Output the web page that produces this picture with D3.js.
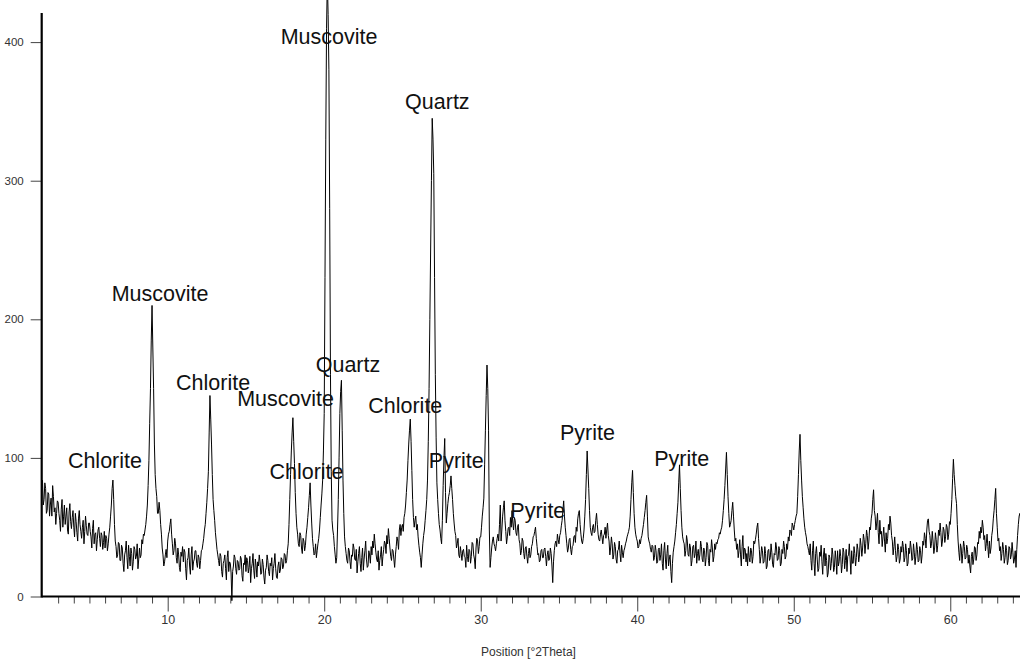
<!DOCTYPE html>
<html>
<head>
<meta charset="utf-8">
<script src="https://cdn.jsdelivr.net/npm/d3@7/dist/d3.min.js"></script>
<style>
  html, body { margin: 0; padding: 0; background: #ffffff; }
  svg { display: block; font-family: "Liberation Sans", Arial, sans-serif; }
</style>
</head>
<body>
<svg id="chart" width="1020" height="661"></svg>
<script>
// ---- data ----
const startAngle = 2.0;   // first measured position, °2Theta
const stepSize = 0.05;    // step between measured positions, °2Theta
const counts = [
  84,66,70,82,78,60,62,75,74,58,66,71,58,80,72,61,64,52,60,69,
  68,60,55,47,63,70,50,58,66,52,58,64,48,45,61,67,54,49,57,62,
  50,43,60,54,46,40,56,62,52,47,42,50,55,38,47,58,51,45,44,53,
  53,47,43,35,49,55,38,45,46,33,41,48,50,42,36,46,44,34,39,47,
  35,44,42,33,38,45,50,58,66,78,84,70,52,40,36,28,30,39,38,26,
  26,37,35,24,18,30,33,40,28,20,37,29,22,35,31,19,25,36,34,27,
  29,38,20,27,35,28,30,41,38,45,44,48,52,58,66,80,98,125,150,185,
  210,180,150,110,88,78,72,60,60,68,62,52,45,35,30,22,25,30,34,28,
  40,45,47,52,56,45,38,30,33,42,38,28,24,35,30,21,18,32,29,36,
  25,34,32,20,12,26,28,35,22,16,30,36,19,25,27,33,33,24,21,30,
  28,20,26,33,34,38,42,48,52,60,68,78,90,118,145,128,110,88,70,62,
  55,46,40,34,30,26,22,31,29,18,14,24,26,30,20,12,28,33,18,25,
  24,17,-3,18,22,30,28,20,16,26,25,19,20,29,27,15,11,24,23,30,
  18,28,26,17,21,29,10,20,24,31,19,13,27,22,14,25,22,30,25,16,
  17,27,23,14,9,19,21,30,26,18,15,24,22,28,12,20,24,31,20,14,
  13,22,25,17,19,28,27,20,22,31,30,24,26,33,38,52,70,88,105,118,
  129,112,96,75,60,50,45,38,36,46,44,35,31,42,40,33,37,45,50,57,
  64,73,82,66,53,42,36,30,31,38,28,33,38,42,48,57,66,74,84,105,
  132,230,330,410,445,420,380,280,160,90,55,48,44,36,30,24,28,48,70,100,
  132,148,156,120,84,60,43,36,31,26,24,35,33,25,20,30,29,38,35,27,
  26,34,17,25,31,36,24,18,28,35,19,27,33,40,27,21,22,33,30,24,
  36,30,40,35,45,38,32,27,25,33,19,26,30,36,22,29,34,40,38,31,
  44,38,49,42,35,29,26,34,33,27,21,30,36,43,40,34,48,52,44,50,
  52,47,57,60,66,75,84,98,110,120,128,112,91,70,57,50,55,58,48,52,
  43,37,32,28,21,30,38,44,48,55,62,70,84,112,150,200,250,300,345,330,
  305,230,160,115,82,70,60,52,48,42,38,55,80,100,114,75,53,60,67,72,
  75,80,87,78,70,60,53,47,44,35,38,42,30,28,36,31,26,33,34,29,
  28,21,37,29,25,34,33,24,29,39,38,30,27,20,35,42,40,31,36,43,
  43,50,58,64,71,95,120,145,167,150,120,48,21,28,35,40,43,38,36,33,
  38,42,45,40,52,66,40,48,58,64,69,55,47,38,43,49,50,44,57,50,
  62,53,48,57,55,46,44,50,52,41,38,30,33,42,40,31,27,35,36,29,
  24,31,35,28,30,36,38,43,44,47,50,42,36,30,31,25,26,33,34,28,
  28,34,35,29,22,30,33,26,27,35,31,22,10,25,33,38,40,36,45,41,
  38,44,46,51,55,62,69,58,50,44,38,32,35,41,42,34,30,36,37,43,
  44,39,50,47,56,60,62,52,45,40,38,42,48,58,70,88,105,92,78,62,
  50,46,44,50,52,46,47,55,60,52,45,41,40,45,48,43,38,44,45,50,
  42,48,53,44,40,30,35,43,38,27,30,39,36,27,24,33,34,40,31,25,
  37,32,28,33,35,38,40,43,45,47,50,58,70,82,91,75,60,50,45,42,
  40,35,36,41,38,42,44,48,52,57,62,68,73,58,43,40,38,34,32,37,
  36,26,28,37,33,24,25,34,35,26,30,38,24,19,33,39,27,20,31,37,
  22,27,30,18,10,24,32,36,40,46,52,60,68,82,95,78,62,50,43,40,
  38,29,33,44,40,30,29,38,35,22,26,36,37,28,31,40,24,31,34,26,
  30,40,36,27,25,35,33,22,28,39,37,26,22,34,32,41,35,25,29,38,
  34,39,38,41,42,46,45,48,50,55,62,70,80,92,104,88,72,60,50,52,
  55,62,68,58,48,40,42,34,38,28,33,41,30,22,36,44,27,35,34,25,
  31,22,36,28,25,35,33,24,29,40,38,41,45,50,53,42,34,24,29,36,
  33,24,25,36,31,20,22,33,34,26,28,38,32,23,21,31,30,39,35,26,
  27,36,33,22,24,34,31,40,36,27,29,38,34,43,40,48,47,44,53,51,
  48,52,55,58,60,72,88,105,117,98,84,72,64,56,50,46,43,38,36,33,
  30,38,26,19,33,40,24,15,31,36,27,18,20,32,29,37,25,16,30,35,
  22,31,26,14,17,30,28,19,24,35,30,18,21,33,27,16,33,22,25,34,
  29,17,23,35,32,20,26,34,18,29,30,38,27,16,33,24,24,36,31,22,
  28,38,34,25,30,42,37,29,35,45,41,31,38,48,44,34,40,50,48,56,
  60,70,77,62,58,48,53,60,46,38,55,45,47,36,43,50,40,32,46,38,
  42,52,48,58,53,44,40,30,36,43,33,25,29,38,34,24,27,36,32,40,
  36,25,28,38,33,22,24,35,31,40,35,26,27,38,32,23,29,39,34,25,
  26,36,33,24,30,40,37,46,42,35,48,55,56,47,44,35,38,47,40,31,
  35,46,41,32,37,48,44,53,46,36,40,50,48,39,43,52,50,41,45,54,
  52,60,70,85,99,88,80,72,67,52,40,32,26,38,35,24,31,40,36,27,
  28,37,34,24,30,22,17,29,32,23,27,36,35,26,30,39,38,47,42,50,
  46,55,50,41,44,33,38,45,36,28,40,31,35,44,48,56,62,70,78,60,
  50,40,42,33,36,26,31,39,34,24,28,37,33,23,26,36,35,27,30,39,
  32,24,27,33,21,34,44,52,58,60,55
];

const xMajorTicks = [10, 20, 30, 40, 50, 60];
const xMinorTicks = [3,4,5,6,7,8,9,11,12,13,14,15,16,17,18,19,21,22,23,24,25,26,27,28,29,
                     31,32,33,34,35,36,37,38,39,41,42,43,44,45,46,47,48,49,51,52,53,54,55,56,57,58,59,61,62,63,64];
const yTicks = [0, 100, 200, 300, 400];
const xTitle = "Position [°2Theta]";

// phase labels: name, position (°2Theta) and height (counts) where each is written
const labelNames  = ["Muscovite","Quartz","Muscovite","Chlorite","Muscovite","Quartz","Chlorite","Chlorite","Chlorite","Pyrite","Pyrite","Pyrite","Pyrite"];
const labelAngles = [20.31, 27.23, 9.51, 12.9, 17.53, 21.52, 25.18, 5.99, 18.87, 28.44, 33.65, 36.82, 42.84];
const labelCounts = [398.5, 352, 213.5, 149, 137.5, 162, 132.5, 92.5, 85, 92.5, 56.5, 113, 94];

// ---- drawing ----
const svg = d3.select("#chart");
const x = d3.scaleLinear().domain([1.95, 64.5]).range([41.7, 1020.7]);
const y = d3.scaleLinear().domain([0, 421]).range([596.5, 13]);

const points = counts.map((c, i) => [startAngle + i * stepSize, c]);

// x axis: minor ticks
svg.append("g")
  .attr("transform", `translate(0,${y(0)})`)
  .call(d3.axisBottom(x).tickValues(xMinorTicks).tickSize(7).tickFormat(""))
  .call(g => g.select(".domain").remove())
  .call(g => g.selectAll(".tick line").attr("stroke", "#444").attr("stroke-width", 1));

// x axis: major ticks + labels
svg.append("g")
  .attr("transform", `translate(0,${y(0)})`)
  .call(d3.axisBottom(x).tickValues(xMajorTicks).tickSize(15).tickPadding(4).tickFormat(d3.format("d")))
  .call(g => g.select(".domain").remove())
  .call(g => g.selectAll(".tick line").attr("stroke", "#444").attr("stroke-width", 1))
  .call(g => g.selectAll(".tick text")
      .attr("fill", "#333")
      .attr("font-size", "12.5px")
      .attr("font-family", "'Liberation Sans', Arial, sans-serif"));

// y axis
svg.append("g")
  .attr("transform", `translate(${x.range()[0]},0)`)
  .call(d3.axisLeft(y).tickValues(yTicks).tickSize(11).tickPadding(7).tickFormat(d3.format("d")))
  .call(g => g.select(".domain").remove())
  .call(g => g.selectAll(".tick line").attr("stroke", "#444").attr("stroke-width", 1))
  .call(g => g.selectAll(".tick text")
      .attr("fill", "#333")
      .attr("font-size", "11.5px")
      .attr("font-family", "'Liberation Sans', Arial, sans-serif"));

// axis lines
svg.append("line")
  .attr("x1", x.range()[0]).attr("x2", x.range()[1])
  .attr("y1", y(0)).attr("y2", y(0))
  .attr("stroke", "#000").attr("stroke-width", 2.2);
svg.append("line")
  .attr("x1", x.range()[0]).attr("x2", x.range()[0])
  .attr("y1", y.range()[1]).attr("y2", y(0) + 1)
  .attr("stroke", "#000").attr("stroke-width", 2.2);

// pattern
const line = d3.line().x(d => x(d[0])).y(d => y(d[1]));
svg.append("path")
  .datum(points)
  .attr("fill", "none")
  .attr("stroke", "#000")
  .attr("stroke-width", 1)
  .attr("stroke-linejoin", "miter")
  .attr("d", line);

// phase labels
svg.append("g")
  .selectAll("text")
  .data(labelNames)
  .join("text")
  .attr("x", (d, i) => x(labelAngles[i]))
  .attr("y", (d, i) => y(labelCounts[i]))
  .attr("text-anchor", "middle")
  .attr("font-size", "21.5px")
  .attr("fill", "#111")
  .text(d => d);

// axis title
svg.append("text")
  .attr("x", x(33.05))
  .attr("y", 656)
  .attr("text-anchor", "middle")
  .attr("font-size", "12px")
  .attr("fill", "#333")
  .text(xTitle);
</script>
</body>
</html>
